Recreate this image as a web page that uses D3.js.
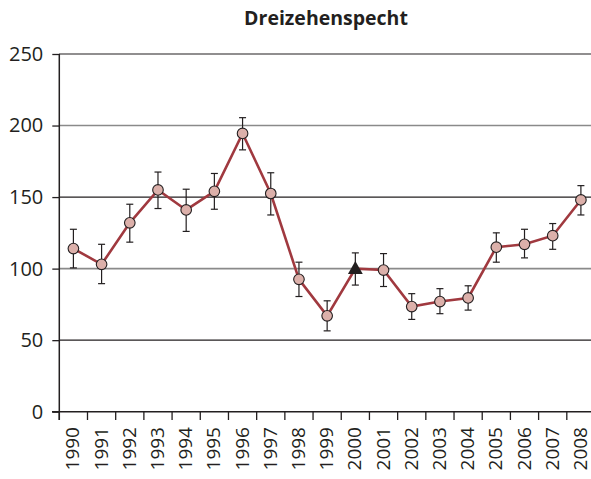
<!DOCTYPE html>
<html lang="de">
<head>
<meta charset="utf-8">
<title>Dreizehenspecht</title>
<style>
  body { margin: 0; background: #fff; }
  text { font-family: "Open Sans", sans-serif; fill: #231f20; }
</style>
</head>
<body>
<svg id="chart" width="591" height="479"></svg>
<script src="https://d3js.org/d3.v7.min.js"></script>
<script>
  // index values per year (2000 = reference year, drawn as triangle)
  var years = ["1990","1991","1992","1993","1994","1995","1996","1997","1998","1999",
               "2000","2001","2002","2003","2004","2005","2006","2007","2008"];
  var values = [114, 103, 132, 155, 141, 154, 194.5, 152.5, 92.5, 67,
                100, 99, 73.5, 77, 79.5, 115, 117, 123, 148];
  var upper = [127.5, 117, 145, 167.5, 155.5, 166.5, 205.5, 167, 104.5, 77.5,
               111, 110.5, 82.5, 86, 88, 125, 127.5, 131.5, 158];
  var lower = [100.5, 89.5, 118.5, 142, 126, 141.5, 183, 137.5, 80.5, 56.5,
               88.5, 87.5, 64.5, 68.5, 71, 104.5, 107.5, 113.5, 137.5];
  var yTicks = [0, 50, 100, 150, 200, 250];
  var refYear = "2000";

  var svg = d3.select("#chart");

  var x = d3.scaleBand()
    .domain(years)
    .range([59.3, 595]);

  var y = d3.scaleLinear()
    .domain([0, 250])
    .range([411.7, 54]);

  // title
  svg.append("text")
    .attr("x", 326)
    .attr("y", 25)
    .attr("text-anchor", "middle")
    .style("font-size", "19.5px")
    .style("font-weight", "bold")
    .text("Dreizehenspecht");

  // horizontal grid lines
  svg.selectAll(".grid")
    .data(yTicks.filter(d => d > 0))
    .join("line")
    .attr("class", "grid")
    .attr("x1", 59)
    .attr("x2", 591)
    .attr("y1", d => y(d))
    .attr("y2", d => y(d))
    .attr("stroke", d => d % 100 == 0 ? "#8a8a8a" : "#231f20")
    .attr("stroke-width", d => d % 100 == 0 ? 1.6 : 1.2);

  // y axis
  var yAxis = d3.axisLeft(y)
    .tickValues(yTicks)
    .tickSize(7)
    .tickPadding(9);

  var gy = svg.append("g")
    .attr("transform", "translate(59.3,0)")
    .call(yAxis);
  gy.select(".domain").remove();
  gy.selectAll("line").attr("stroke", "#231f20").attr("stroke-width", 1.3);
  gy.selectAll("text")
    .style("font-size", "20px")
    .style("font-family", "\"Open Sans\", sans-serif")
    .attr("fill", "#231f20");

  // vertical axis line
  svg.append("line")
    .attr("x1", 59.3).attr("x2", 59.3)
    .attr("y1", y(250)).attr("y2", 420)
    .attr("stroke", "#231f20").attr("stroke-width", 1.5);

  // x axis baseline
  svg.append("line")
    .attr("x1", 52).attr("x2", 591)
    .attr("y1", y(0)).attr("y2", y(0))
    .attr("stroke", "#231f20").attr("stroke-width", 1.5);

  // x ticks between categories
  svg.selectAll(".xtick")
    .data(years)
    .join("line")
    .attr("class", "xtick")
    .attr("x1", d => x(d))
    .attr("x2", d => x(d))
    .attr("y1", y(0))
    .attr("y2", 420)
    .attr("stroke", "#231f20")
    .attr("stroke-width", 1.3);

  // x labels, rotated
  svg.selectAll(".xlabel")
    .data(years)
    .join("text")
    .attr("class", "xlabel")
    .attr("transform", d => "translate(" + (x(d) + x.bandwidth() / 2) + ",427) rotate(-90)")
    .attr("text-anchor", "end")
    .attr("dy", "0.32em")
    .style("font-size", "19px")
    .text(d => d);

  var cx = d => x(d) + x.bandwidth() / 2;

  // error bars
  var eb = svg.append("g").attr("stroke", "#231f20").attr("stroke-width", 1.2);
  years.forEach(function(yr, i) {
    eb.append("line")
      .attr("x1", cx(yr)).attr("x2", cx(yr))
      .attr("y1", y(upper[i])).attr("y2", y(lower[i]));
    [upper[i], lower[i]].forEach(function(v) {
      eb.append("line")
        .attr("x1", cx(yr) - 3.5).attr("x2", cx(yr) + 3.5)
        .attr("y1", y(v)).attr("y2", y(v));
    });
  });

  // line
  var line = d3.line()
    .x((d, i) => cx(years[i]))
    .y(d => y(d));

  svg.append("path")
    .attr("d", line(values))
    .attr("fill", "none")
    .attr("stroke", "#a0393f")
    .attr("stroke-width", 2.6);

  // markers
  var pts = years.map((yr, i) => ({year: yr, value: values[i]}));

  svg.selectAll(".dot")
    .data(pts.filter(d => d.year != refYear))
    .join("circle")
    .attr("class", "dot")
    .attr("cx", d => cx(d.year))
    .attr("cy", d => y(d.value))
    .attr("r", 5.3)
    .attr("fill", "#dcb0aa")
    .attr("stroke", "#231f20")
    .attr("stroke-width", 1.1);

  svg.selectAll(".ref")
    .data(pts.filter(d => d.year == refYear))
    .join("path")
    .attr("class", "ref")
    .attr("transform", d => "translate(" + cx(d.year) + "," + (y(d.value) + 1) + ")")
    .attr("d", d3.symbol(d3.symbolTriangle, 95))
    .attr("fill", "#231f20");
</script>
</body>
</html>
